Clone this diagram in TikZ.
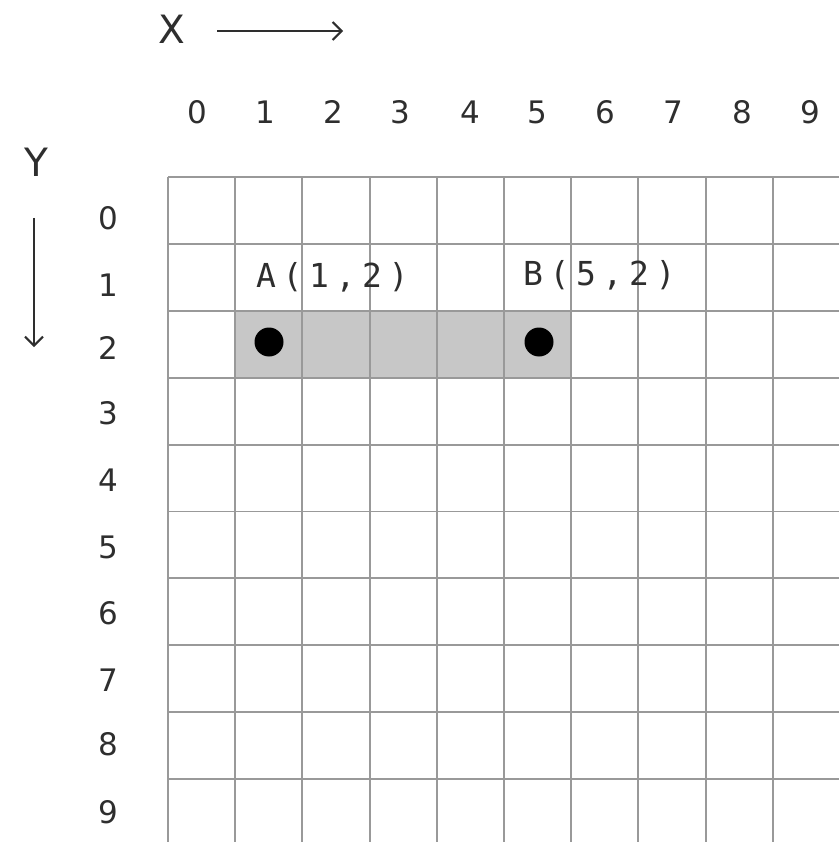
\documentclass[tikz,border=0pt]{standalone}
\usepackage{fontspec}
\usetikzlibrary{arrows.meta}
\newfontfamily\dvs{DejaVu Sans}
\newfontfamily\dvm[LetterSpace=20]{DejaVu Sans Mono}
\begin{document}
\begin{tikzpicture}[x=1pt,y=-1pt,
  gridline/.style={draw=gray!80,line width=1.9pt},
  axlbl/.style={font=\dvs\fontsize{31}{31}\selectfont,text=black!82,inner sep=0pt},
  bigl/.style={font=\dvs\fontsize{39}{39}\selectfont,text=black!82,inner sep=0pt},
  ptlbl/.style={font=\dvm\fontsize{33}{33}\selectfont,text=black!82,inner sep=0pt},
  axarrow/.style={draw=black!82,line width=2pt,-{Straight Barb[length=9pt,width=18pt,line width=2pt]}},
  dot/.style={circle,fill=black,minimum size=29pt,inner sep=0pt}]
\useasboundingbox (0,0) rectangle (839,842);
\fill[white] (0,0) rectangle (839,842);
% shaded cells
\fill[black!22] (235.2,310) rectangle (571.2,377);
% grid
\foreach \i in {0,...,9}{
  \draw[gridline] ({168+67.2*\i},177) -- ({168+67.2*\i},842);
  \draw[gridline] (168,{177+66.9*\i}) -- (839,{177+66.9*\i});
}
% column labels
\foreach \i/\xx in {0/197,1/265,2/333,3/400,4/470,5/537,6/605,7/673,8/742,9/810}{
  \node[axlbl] (c\i) at (\xx,112) {\i};
}
% row labels
\foreach \j/\yy in {0/218,1/285,2/348,3/413,4/480,5/547,6/613,7/680,8/744,9/812}{
  \node[axlbl] (r\j) at (108,\yy) {\j};
}
% axes
\node[bigl] (X) at (172,29) {X};
\coordinate (xs) at (217,31);
\coordinate (xe) at (343,31);
\draw[axarrow] (xs) -- (xe);
\node[bigl] (Y) at (36,162) {Y};
\coordinate (ys) at (34,218);
\coordinate (ye) at (34,347);
\draw[axarrow] (ys) -- (ye);
% points
\node[dot] (A) at (269,342) {};
\node[dot] (B) at (539,342) {};
\node[ptlbl,anchor=west] (Al) at (256,277) {A(1,2)};
\node[ptlbl,anchor=west] (Bl) at (523,275) {B(5,2)};
\end{tikzpicture}
\end{document}
